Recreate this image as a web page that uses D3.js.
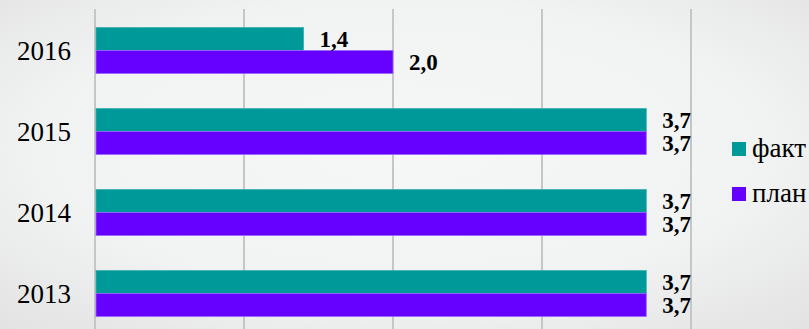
<!DOCTYPE html>
<html><head><meta charset="utf-8">
<script src="https://cdn.jsdelivr.net/npm/d3@7"></script>
<style>html,body{margin:0;padding:0;overflow:hidden;}svg{display:block;} text{font-family:"Liberation Serif","Times New Roman","DejaVu Serif",serif;}</style>
</head><body>
<script>
const categories = ["2016", "2015", "2014", "2013"];
const series = ["факт", "план"];
const factValues = [1.4, 3.7, 3.7, 3.7];
const planValues = [2.0, 3.7, 3.7, 3.7];
const xTicks = [0, 1, 2, 3, 4];
const colors = {"факт": "#009999", "план": "#6600ff"};
const strokes = {"факт": "#3fb0b0", "план": "#9a66ff"};

const W = 809, H = 329;
const svg = d3.select("body").append("svg").attr("width", W).attr("height", H);
const defs = svg.append("defs");
const grad = defs.append("radialGradient").attr("id", "bg").attr("cx", "50%").attr("cy", "45%").attr("r", "75%");
grad.append("stop").attr("offset", "0%").attr("stop-color", "#f6f7f7");
grad.append("stop").attr("offset", "60%").attr("stop-color", "#f1f2f2");
grad.append("stop").attr("offset", "100%").attr("stop-color", "#e2e2e2");
svg.append("rect").attr("width", W).attr("height", H).attr("fill", "url(#bg)");

const x = d3.scaleLinear().domain([0, 4]).range([95, 691]);
const y = d3.scaleBand().domain(categories).range([10, 334]).padding(0);
const bw = y.bandwidth();
const y1 = d3.scaleBand().domain(series).range([bw * 0.216, bw * 0.784]);

// gridlines
svg.append("g").selectAll("line").data(xTicks).join("line")
  .attr("x1", d => x(d)).attr("x2", d => x(d))
  .attr("y1", 9).attr("y2", H)
  .attr("stroke", "#c6c6c6").attr("stroke-width", 2);

const rows = categories.map((c, i) => ({cat: c, vals: [
  {s: "факт", v: factValues[i]}, {s: "план", v: planValues[i]}]}));

const g = svg.append("g").selectAll("g").data(rows).join("g")
  .attr("transform", d => `translate(0,${y(d.cat)})`);
g.selectAll("rect").data(d => d.vals).join("rect")
  .attr("x", x(0) + 1)
  .attr("y", d => y1(d.s))
  .attr("width", d => x(d.v) - x(0) - 1)
  .attr("height", y1.bandwidth())
  .attr("fill", d => colors[d.s])
  .attr("stroke", d => strokes[d.s]).attr("stroke-width", 0.8);
g.selectAll("text").data(d => d.vals).join("text")
  .attr("x", d => x(d.v) + 16)
  .attr("y", d => y1(d.s) + y1.bandwidth() / 2 + 8)
  .attr("font-weight", "bold").attr("font-size", 23).attr("fill", "#000")
  .text(d => d.v.toFixed(1).replace(".", ","));

// category labels
svg.append("g").selectAll("text").data(categories).join("text")
  .attr("x", 71).attr("y", d => y(d) + bw / 2 + 9)
  .attr("text-anchor", "end")
  .attr("font-size", 27).attr("fill", "#000")
  .text(d => d);

// legend
const lg = svg.append("g").selectAll("g").data(series).join("g")
  .attr("transform", (d, i) => `translate(732,${142 + i * 45})`);
lg.append("rect").attr("width", 14).attr("height", 14).attr("fill", d => colors[d]);
lg.append("text").attr("x", 20).attr("y", 15)
  .attr("font-size", 27).attr("fill", "#000")
  .text(d => d);
</script>
</body></html>
